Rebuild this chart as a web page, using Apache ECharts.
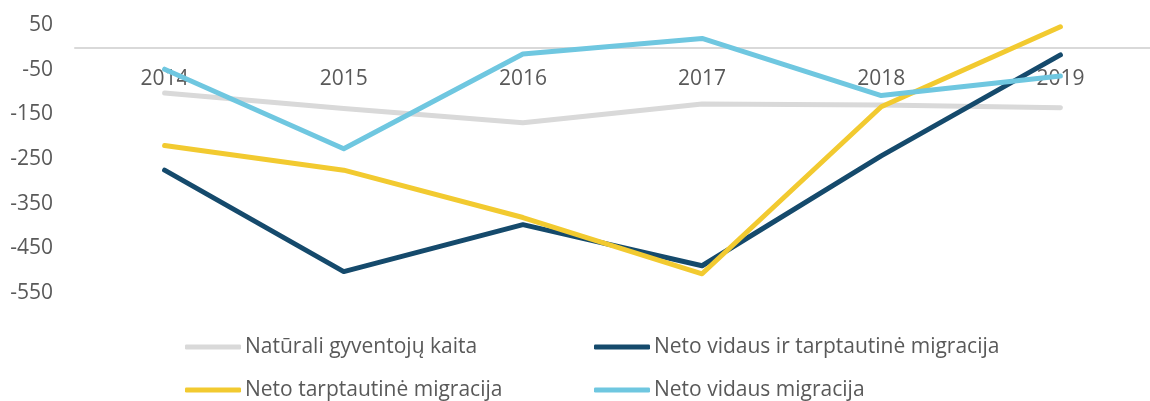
<!DOCTYPE html>
<html>
<head>
<meta charset="utf-8">
<script src="https://cdn.jsdelivr.net/npm/echarts@6/dist/echarts.min.js"></script>
<style>
  html, body { margin: 0; padding: 0; background: #fff; }
  #main { width: 1150px; height: 401px; }
</style>
</head>
<body>
<div id="main"></div>
<script>
// data
const years = ['2014', '2015', '2016', '2017', '2018', '2019'];
const naturali = [-102, -137, -169, -127, -129, -135];
const vidausIrTarpt = [-275, -502, -397, -489, -243, -17];
const tarptautine = [-220, -275, -381, -507, -133, 46];
const vidaus = [-49, -227, -15, 20, -108, -64];
const seriesNames = [
  'Natūrali gyventojų kaita',
  'Neto vidaus ir tarptautinė migracija',
  'Neto tarptautinė migracija',
  'Neto vidaus migracija'
];
const colors = ['#d9d9d9', '#154a6c', '#f2ca30', '#6fc7e0'];

const font = "'Open Sans', 'Noto Sans', sans-serif";
const txt = '#595959';
const fs = 21;

const mkLegend = (name, left, top) => ({
  data: [name],
  left: left,
  top: top,
  icon: 'roundRect',
  itemWidth: 56,
  itemHeight: 5,
  itemGap: 0,
  padding: 0,
  textStyle: { color: txt, fontSize: fs, lineHeight: 24, fontFamily: font, padding: [0, 0, 0, -1] }
});

const mkLine = (idx, data) => ({
  name: seriesNames[idx],
  type: 'line',
  data: data,
  symbol: 'none',
  color: colors[idx],
  lineStyle: { width: 5, color: colors[idx], cap: 'round', join: 'round' },
  emphasis: { disabled: true }
});

let myChart = echarts.init(document.getElementById('main'), null, { renderer: 'canvas' });
let option = {
  backgroundColor: '#fff',
  animation: false,
  grid: { left: 75, top: 25, width: 1078, height: 268, containLabel: false },
  legend: [
    mkLegend(seriesNames[0], 185, 335),
    mkLegend(seriesNames[1], 594, 335),
    mkLegend(seriesNames[2], 185, 378),
    mkLegend(seriesNames[3], 594, 378)
  ],
  xAxis: {
    type: 'category',
    data: years,
    axisLine: { onZero: true, lineStyle: { color: '#d9d9d9', width: 2 } },
    axisTick: { show: false },
    // labels sit just under the zero line, like the original
    axisLabel: { color: txt, fontSize: fs, fontFamily: font, margin: -224 }
  },
  yAxis: {
    type: 'value',
    min: -550,
    max: 50,
    interval: 50,
    splitLine: { show: false },
    axisLine: { show: false },
    axisTick: { show: false },
    axisLabel: {
      color: txt, fontSize: fs, fontFamily: font, margin: 22,
      formatter: (v) => ((v + 550) % 100 === 0 ? String(v) : '')
    }
  },
  series: [
    mkLine(0, naturali),
    mkLine(1, vidausIrTarpt),
    mkLine(2, tarptautine),
    mkLine(3, vidaus)
  ]
};
myChart.setOption(option);
</script>
</body>
</html>
